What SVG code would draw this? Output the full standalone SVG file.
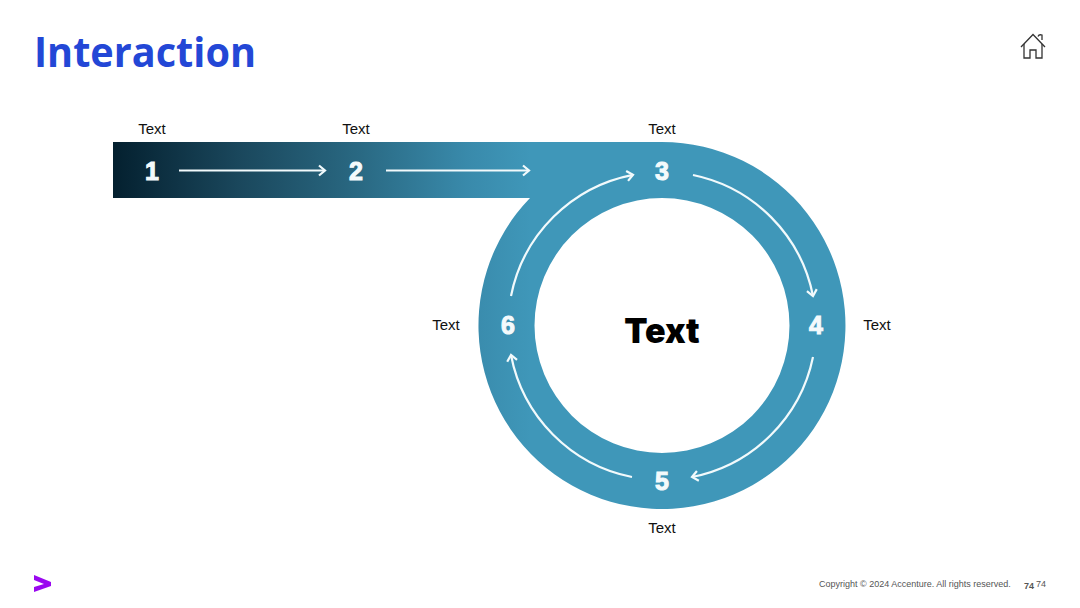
<svg xmlns="http://www.w3.org/2000/svg" width="1080" height="608" viewBox="0 0 1080 608">
<style>
.lbl{font-family:"Liberation Sans",Arial,sans-serif;font-size:15px;fill:#111;text-anchor:middle}
.num{font-family:"Liberation Sans",Arial,sans-serif;font-weight:700;font-size:25px;fill:#f4fafc;stroke:#f4fafc;stroke-width:1;text-anchor:middle}
.ar{fill:none;stroke:#f2fafc;stroke-width:2.200;marker-end:url(#head)}
.foot{font-family:"Liberation Sans",Arial,sans-serif;font-size:9px;fill:#555}
</style>
<defs>
<linearGradient id="band" gradientUnits="userSpaceOnUse" x1="113" y1="0" x2="530" y2="0">
<stop offset="0" stop-color="#04202f"/><stop offset="0.3" stop-color="#1a475c"/><stop offset="0.6" stop-color="#2a6a84"/><stop offset="0.85" stop-color="#398aab"/><stop offset="1" stop-color="#3f97b9"/>
</linearGradient>
<marker id="head" markerUnits="userSpaceOnUse" markerWidth="14" markerHeight="16" refX="10" refY="7" orient="auto">
<path d="M4 2L10 7L4 12" fill="none" stroke="#f2fafc" stroke-width="2.200"/>
</marker>
</defs>
<rect width="1080" height="608" fill="#fff"/>
<text x="34" y="67" font-family="'Open Sans','Noto Sans',sans-serif" font-weight="700" font-size="42" fill="#2347d6" textLength="222" lengthAdjust="spacingAndGlyphs">Interaction</text>
<g id="home" fill="none" stroke="#333" stroke-width="1.300">
<path d="M1021 47L1033 34.500L1045 47"/>
<path d="M1024 44V58H1030V50H1036V58H1042V44"/>
<path d="M1038 36.500Q1039 34 1042 35V40"/>
</g>
<path id="band-shape" fill="url(#band)" fill-rule="evenodd" d="M113 142H662A183.500 183.500 0 1 1 530 198H113ZM662 198A127.500 127.500 0 1 0 662 453A127.500 127.500 0 1 0 662 198Z"/>
<g id="connectors">
<path class="ar" d="M179 170.500H325"/>
<path class="ar" d="M386 170.500H529"/>
<path class="ar" d="M511 296A154 154 0 0 1 633 174.800"/>
<path class="ar" d="M693 175A154 154 0 0 1 813 296"/>
<path class="ar" d="M813 357A154 154 0 0 1 692 477"/>
<path class="ar" d="M632 477A154 154 0 0 1 511 355"/>
</g>
<g id="node1"><text class="lbl" x="152" y="134">Text</text><text class="num" x="152" y="180">1</text></g>
<g id="node2"><text class="lbl" x="356" y="134">Text</text><text class="num" x="356" y="180">2</text></g>
<g id="node3"><text class="lbl" x="662" y="134">Text</text><text class="num" x="662" y="180">3</text></g>
<g id="node4"><text class="lbl" x="877" y="330">Text</text><text class="num" x="816" y="334">4</text></g>
<g id="node5"><text class="lbl" x="662" y="533">Text</text><text class="num" x="662" y="490">5</text></g>
<g id="node6"><text class="lbl" x="446" y="330">Text</text><text class="num" x="508" y="334">6</text></g>
<g id="center"><text x="662" y="343" font-family="Inter,'Liberation Sans',sans-serif" font-weight="900" font-size="34" fill="#000" text-anchor="middle">Text</text></g>
<polygon id="logo" fill="#9a08f0" points="34,575 51,582 51,586 34,592 34,587 44,584 34,580"/>
<text class="foot" x="819" y="587">Copyright © 2024 Accenture. All rights reserved.</text>
<text class="foot" x="1024" y="589" font-weight="700" fill="#333">74</text>
<text class="foot" x="1036" y="587">74</text>
</svg>
